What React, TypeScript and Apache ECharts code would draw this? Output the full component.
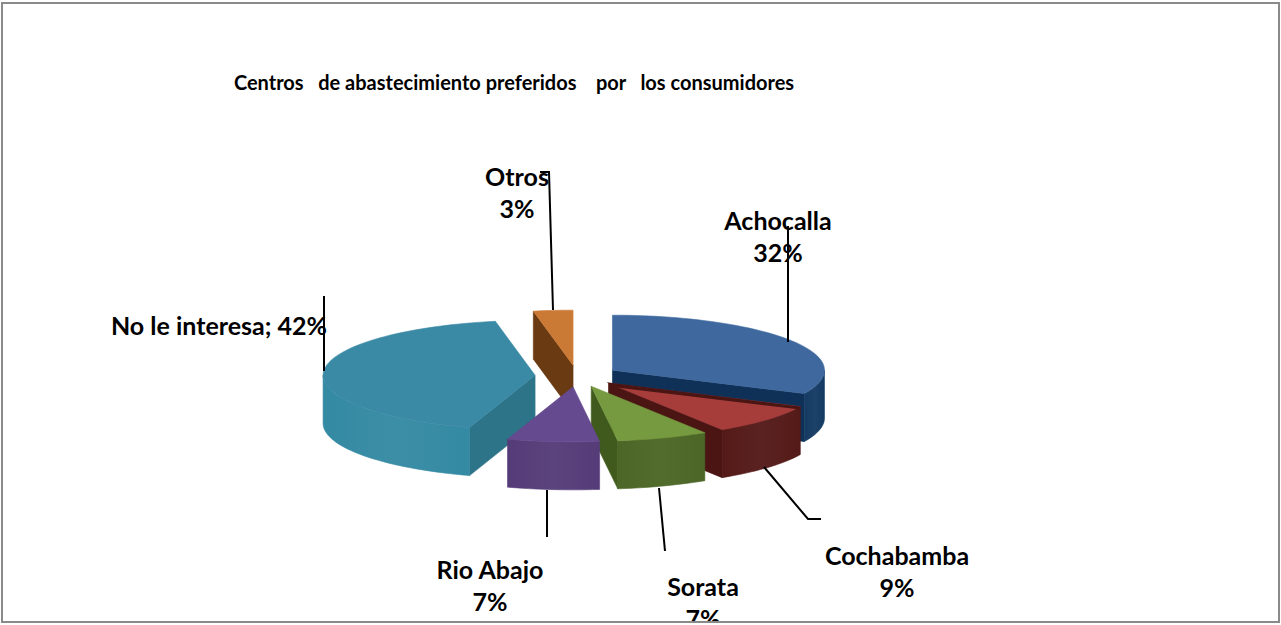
import React, { useEffect, useRef } from "react";
import * as echarts from "echarts";

const categories = ["Achocalla", "Cochabamba", "Sorata", "Rio Abajo", "No le interesa", "Otros"];
const shares = [32, 9, 7, 7, 42, 3];
const topColors = ["#3F699E", "#A63D3B", "#769A3F", "#654A8F", "#3A8AA6", "#CB7A35"];
const sideColors = ["#143A63", "#541A18", "#4B6626", "#553C78", "#348AA3", "#6F3F14"];
const wallColors = ["#0F3157", "#4A1513", "#3F5A1C", "#4A3269", "#2E7489", "#6A3A12"];
const paintOrder = [5, 0, 4, 1, 2, 3];

const W = 1281;
const H = 625;
const CX = 577;
const CY = 376;
const RX = 212;
const RY = 55;
const DEPTH = 48;
const EXPLODE = 42;
const LABEL_FONT = "Lato";
const COCHABAMBA = 1;

const rad = (d: number) => (d * Math.PI) / 180;
const total = shares.reduce((a, b) => a + b, 0);
const starts: number[] = [];
shares.reduce((acc, v, i) => {
  starts[i] = acc;
  return acc + (v / total) * 360;
}, 0);

function arc(cx: number, cy: number, from: number, to: number) {
  const n = Math.max(2, Math.ceil((to - from) / 2));
  const pts: number[][] = [];
  for (let i = 0; i <= n; i++) {
    const t = rad(from + ((to - from) * i) / n);
    pts.push([cx + RX * Math.sin(t), cy - RY * Math.cos(t)]);
  }
  return pts;
}

function renderSlice(params: any) {
  const idx = paintOrder[params.dataIndex];
  const a0 = starts[idx];
  const a1 = a0 + (shares[idx] / total) * 360;
  const mid = rad((a0 + a1) / 2);
  const cx = CX + EXPLODE * Math.sin(mid);
  const cy = CY - EXPLODE * (RY / RX) * Math.cos(mid);
  const down = (p: number[]) => [p[0], p[1] + DEPTH];
  const children: any[] = [];

  // Radial cut faces that turn towards the viewer
  [a0, a1].forEach((a, k) => {
    const s = Math.sin(rad(a));
    if ((k === 1 && s > 0.001) || (k === 0 && s < -0.001)) {
      const rim = arc(cx, cy, a, a + 0.01)[0];
      children.push({
        type: "polygon",
        shape: { points: [[cx, cy], rim, down(rim), [cx, cy + DEPTH]] },
        style: { fill: wallColors[idx], stroke: wallColors[idx], lineWidth: 0.6 },
      });
    }
  });

  // Outer rim, only its front half is visible
  const f0 = Math.max(a0, 90);
  const f1 = Math.min(a1, 270);
  if (f1 > f0) {
    const rim = arc(cx, cy, f0, f1);
    children.push({
      type: "polygon",
      shape: { points: [...rim, ...rim.slice().reverse().map(down)] },
      style: {
        fill: new echarts.graphic.LinearGradient(0, 0, 1, 0, [
          { offset: 0, color: sideColors[idx] },
          { offset: 0.5, color: echarts.color.lift(sideColors[idx], 0.04) },
          { offset: 1, color: sideColors[idx] },
        ]),
        stroke: sideColors[idx],
        lineWidth: 0.6,
      },
    });
  }

  children.push({
    type: "polygon",
    shape: { points: [[cx, cy], ...arc(cx, cy, a0, a1)] },
    style: { fill: topColors[idx], stroke: topColors[idx], lineWidth: 0.6 },
  });

  // Dark lip along the upper cut of the red wedge
  if (idx === COCHABAMBA) {
    const rim = arc(cx, cy, a0, a0 + 0.01)[0];
    children.push({
      type: "polygon",
      shape: { points: [[cx - 2, cy - 1], rim, [rim[0], rim[1] + 3], [cx + 6, cy + 4]] },
      style: { fill: wallColors[idx] },
    });
  }
  return { type: "group", children };
}

const labelLayout = [
  { x: 778, y: 204 },
  { x: 897, y: 539 },
  { x: 703, y: 570 },
  { x: 490, y: 553 },
  { x: 219, y: 325 },
  { x: 517, y: 160 },
];

const leaders = [
  [[788, 226], [788, 342]],
  [[764, 467], [808, 519], [821, 519]],
  [[659, 488], [665, 551]],
  [[547, 490], [547, 537]],
  [[324, 296], [324, 371]],
  [[540, 172], [549, 172], [553, 310]],
];

export default function App() {
  const ref = useRef<HTMLDivElement>(null);
  useEffect(() => {
    document.body.style.margin = "0";
    const chart = echarts.init(ref.current!, undefined, { renderer: "svg" });
    chart.setOption({
      animation: false,
      backgroundColor: "#ffffff",
      series: [
        {
          type: "custom",
          coordinateSystem: "none",
          silent: true,
          data: paintOrder.map((i) => ({ name: categories[i], value: shares[i] })),
          renderItem: renderSlice,
          z: 1,
        },
      ],
      graphic: [
        {
          type: "text",
          x: 514,
          y: 82,
          z: 5,
          style: {
            text: "Centros   de abastecimiento preferidos    por   los consumidores",
            font: `bold 20px ${LABEL_FONT}`,
            fill: "#000",
            align: "center",
            verticalAlign: "middle",
          },
        },
        ...categories.map((c, i) => ({
          type: "text",
          x: labelLayout[i].x,
          y: labelLayout[i].y,
          z: 5,
          style: {
            text: i === 4 ? `${c}; ${shares[i]}%` : `${c}\n${shares[i]}%`,
            font: `bold 25px ${LABEL_FONT}`,
            lineHeight: 32,
            fill: "#000",
            align: "center",
            verticalAlign: i === 4 ? "middle" : "top",
          },
        })),
        ...leaders.map((pts) => ({
          type: "polyline",
          z: 6,
          shape: { points: pts },
          style: { stroke: "#000", lineWidth: 2, fill: "none" },
        })),
        {
          type: "rect",
          z: 7,
          shape: { x: 0, y: 622, width: W, height: 3 },
          style: { fill: "#fff" },
        },
        {
          type: "rect",
          z: 8,
          shape: { x: 2, y: 3, width: 1277, height: 619 },
          style: { fill: "none", stroke: "#8a8a8a", lineWidth: 2 },
        },
      ],
    });
    return () => chart.dispose();
  }, []);
  return <div ref={ref} style={{ width: W, height: H }} />;
}
